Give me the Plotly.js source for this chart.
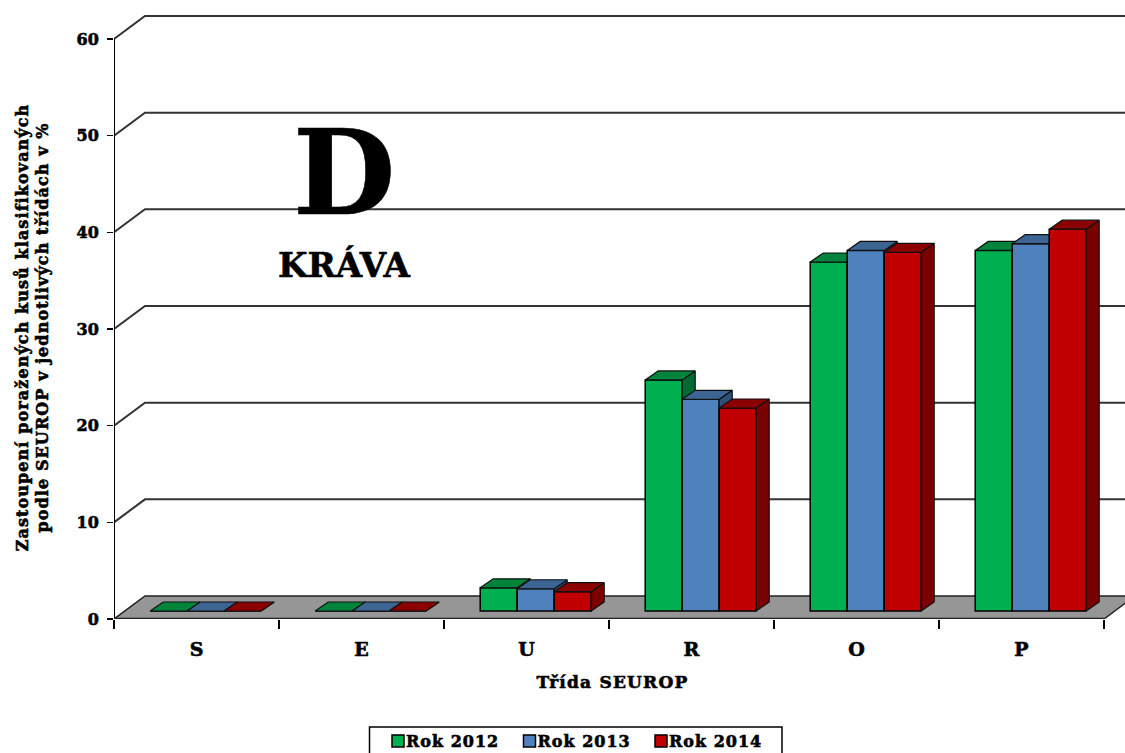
<!DOCTYPE html>
<html><head><meta charset="utf-8">
<script src="https://cdn.plot.ly/plotly-3.0.1.min.js"></script>
<style>html,body{margin:0;padding:0;background:#fff;overflow:hidden}#c{width:1125px;height:753px}
svg text{stroke:#000!important;stroke-width:.6px}
.ytitle{letter-spacing:1.1px;translate:-5px 11px}
.xtitle{letter-spacing:1.2px;translate:-7px 0}
.legendtext{letter-spacing:1px}
.legendsymbols{translate:12px 0}
</style>
</head><body><div id="c"></div>
<script>
const categories = ['S','E','U','R','O','P'];
const rok2012 = [0,0,2.4,23.9,36.1,37.3];
const rok2013 = [0,0,2.3,21.9,37.3,38.0];
const rok2014 = [0,0,2.0,21.0,37.1,39.5];
const seriesNames = ['Rok 2012','Rok 2013','Rok 2014'];
const frontColors = ['#00B050','#4F81BD','#C00000'];
const topColors = ['#00843C','#3D6594','#8B0000'];
const sideColors = ['#006B30','#2F4F77','#7A0000'];
const gridValues = [10,20,30,40,50,60];
const yTicks = [0,10,20,30,40,50,60];

// pixel geometry of the oblique projection, converted to data units
const pxX = 165.0, pxY = 9.667;
const L = 114, R = 0, T = 14, B = 134;
const plotW = 1125-L-R, plotH = 753-T-B;
const xMax = plotW/pxX, yMax = plotH/pxY;
const wallDx = 31/pxX, wallDy = 23/pxY;
const barW = 37/pxX, barDx = 13/pxX, barDy = 9/pxY;
const barBase = 8/pxY, barShift = 9.2/pxX;
const FONT = '"DejaVu Serif", serif';
const py = p => (753-B-p)/plotH;   // paper y from picture y
const px = p => (p-L)/plotW;       // paper x from picture x

const traces = [];
// back wall grid lines
const gx=[], gy=[];
gridValues.forEach(v=>{ gx.push(0,wallDx,xMax,null); gy.push(v,v+wallDy,v+wallDy,null); });
traces.push({type:'scatter',mode:'lines',x:gx,y:gy,line:{color:'#333',width:2},hoverinfo:'skip',showlegend:false,cliponaxis:false});
// floor
traces.push({type:'scatter',mode:'lines',x:[0,wallDx,6+wallDx,6,0],y:[0,wallDy,wallDy,0,0],fill:'toself',fillcolor:'#969696',line:{color:'#222',width:1.5},hoverinfo:'skip',showlegend:false});
// axis lines
traces.push({type:'scatter',mode:'lines',x:[0,0],y:[0,60],line:{color:'#000',width:2},hoverinfo:'skip',showlegend:false,cliponaxis:false});
traces.push({type:'scatter',mode:'lines',x:[0,6],y:[0,0],line:{color:'#222',width:2.5},hoverinfo:'skip',showlegend:false,cliponaxis:false});

[rok2012,rok2013,rok2014].forEach((vals,j)=>{
  const xa = 'x'+(j+2), ya = 'y'+(j+2);
  const xs = vals.map((v,i)=>i+0.5+barShift+(j-1)*barW);
  traces.push({type:'bar',name:seriesNames[j],x:xs,y:vals,base:vals.map(()=>barBase),width:barW,
    marker:{color:frontColors[j],line:{color:'#000',width:1.5}},xaxis:xa,yaxis:ya});
  const tx=[],ty=[],sx=[],sy=[];
  vals.forEach((v,i)=>{
    const l=xs[i]-barW/2, r=xs[i]+barW/2, t=barBase+v;
    tx.push(l,l+barDx,r+barDx,r,l,null); ty.push(t,t+barDy,t+barDy,t,t,null);
    sx.push(r,r,r+barDx,r+barDx,r,null); sy.push(barBase,t,t+barDy,barBase+barDy,barBase,null);
  });
  traces.push({type:'scatter',mode:'lines',x:sx,y:sy,fill:'toself',fillcolor:sideColors[j],line:{color:'#111',width:1.2},hoverinfo:'skip',showlegend:false,xaxis:xa,yaxis:ya,cliponaxis:false});
  traces.push({type:'scatter',mode:'lines',x:tx,y:ty,fill:'toself',fillcolor:topColors[j],line:{color:'#111',width:1.2},hoverinfo:'skip',showlegend:false,xaxis:xa,yaxis:ya,cliponaxis:false});
});

const hiddenX = {range:[0,xMax],overlaying:'x',visible:false,fixedrange:true};
const hiddenY = {range:[0,yMax],overlaying:'y',visible:false,fixedrange:true};

const layout = {
  width:1125,height:753,paper_bgcolor:'#fff',plot_bgcolor:'rgba(0,0,0,0)',
  margin:{l:L,r:R,t:T,b:B,pad:0,autoexpand:false},
  barmode:'overlay',
  font:{family:FONT,color:'#000'},
  xaxis:{range:[0,xMax],tickmode:'array',tickvals:categories.map((c,i)=>i+0.5),ticktext:categories.map(c=>'<b>'+c+'</b>'),
    ticks:'outside',ticklen:13,tickcolor:'rgba(0,0,0,0)',tickfont:{family:FONT,size:19,color:'#000'},
    minor:{tickmode:'array',tickvals:[0,1,2,3,4,5,6],ticks:'outside',ticklen:9,tickwidth:1.5,tickcolor:'#000',showgrid:false},
    showgrid:false,zeroline:false,showline:false,fixedrange:true,
    title:{text:'<b>Třída SEUROP</b>',font:{family:FONT,size:17,color:'#000'},standoff:17}},
  yaxis:{range:[0,yMax],tickmode:'array',tickvals:yTicks,ticktext:yTicks.map(v=>'<b>'+v+'</b>'),
    ticks:'outside',ticklen:6,tickwidth:1.5,tickcolor:'#000',ticklabelstandoff:5,tickfont:{family:FONT,size:16,color:'#000'},
    showgrid:false,zeroline:false,showline:false,fixedrange:true,
    title:{text:'<b>Zastoupení poražených kusů klasifikovaných<br>podle SEUROP v jednotlivých třídách v %</b>',font:{family:FONT,size:16,color:'#000'},standoff:18}},
  xaxis2:hiddenX,yaxis2:hiddenY,xaxis3:hiddenX,yaxis3:hiddenY,xaxis4:hiddenX,yaxis4:hiddenY,
  legend:{orientation:'h',x:px(366),xanchor:'left',y:py(724),yanchor:'top',
    borderwidth:0,bgcolor:'rgba(0,0,0,0)',font:{family:FONT,size:16,color:'#000',weight:700},
    entrywidth:86.5,entrywidthmode:'pixels',itemclick:false,itemdoubleclick:false},
  showlegend:true,
  shapes:[{type:'rect',xref:'paper',yref:'paper',x0:px(369.5),x1:px(782),y0:py(727),y1:py(770),line:{color:'#000',width:1.5},fillcolor:'#fff'}],
  annotations:[
    {text:'<b>D</b>',xref:'paper',yref:'paper',x:px(344),y:py(173),xanchor:'center',yanchor:'middle',showarrow:false,font:{family:FONT,size:118,color:'#000'}},
    {text:'<b>KRÁVA</b>',xref:'paper',yref:'paper',x:px(344),y:py(265),xanchor:'center',yanchor:'middle',showarrow:false,font:{family:FONT,size:34,color:'#000'}}
  ]
};
Plotly.newPlot('c',traces,layout,{displayModeBar:false,staticPlot:true});
</script></body></html>
